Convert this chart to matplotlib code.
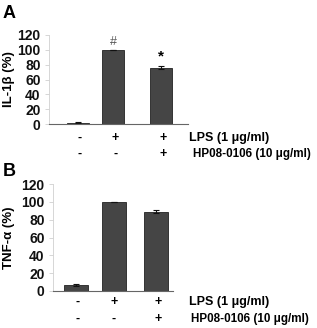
import matplotlib
matplotlib.use('Agg')
import matplotlib.pyplot as plt
import matplotlib.transforms as mtransforms

plt.rcParams['font.family'] = ['Liberation Sans', 'DejaVu Sans']
plt.rcParams['font.weight'] = 'bold'

# data
positions_A = [0, 1, 2.35]
il1b = [2, 100, 76]
il1b_err = [0.8, 0, 2]
marks_A = ['', '#', '*']

positions_B = [0, 1, 2.1]
tnfa = [7, 100, 89]
tnfa_err = [1, 0, 1.5]

lps = ['-', '+', '+']
hp = ['-', '-', '+']
yticks = [0, 20, 40, 60, 80, 100, 120]

W, H = 317, 328
fig = plt.figure(figsize=(W / 100, H / 100), dpi=100)

FS = 9


def make_axes(x0, x1, y0, y1):
    # pixel box -> figure fraction
    return fig.add_axes([x0 / W, 1 - y0 / H, (x1 - x0) / W, (y0 - y1) / H])


def panel(ax, pos, vals, errs, ylabel, xlim, sign_x, row_y, text_x, label_x):
    ax.bar(pos, vals, width=0.62, color='#454545', edgecolor='#222222', linewidth=0.6)
    ax.errorbar(pos, vals, yerr=errs, fmt='none', ecolor='#111111', elinewidth=0.8, capsize=2, capthick=0.8)
    ax.set_xlim(*xlim)
    ax.set_ylim(0, 120)
    ax.set_yticks(yticks)
    ax.set_xticks([])
    for s in ['top', 'right']:
        ax.spines[s].set_visible(False)
    ax.spines['left'].set_color('#d0d0d0')
    ax.spines['left'].set_linewidth(0.6)
    ax.spines['bottom'].set_color('#666666')
    ax.spines['bottom'].set_linewidth(0.8)
    ax.tick_params(axis='y', colors='#d0d0d0', length=3, width=0.6, pad=3,
                   labelcolor='#111111', labelsize=10)
    for lab in ax.get_yticklabels():
        lab.set_fontweight('bold')
    ax.set_ylabel(ylabel, fontsize=9.5, fontweight='bold')
    ax.yaxis.label.set_verticalalignment('center')
    bbox = ax.get_position()
    ax.yaxis.set_label_coords((label_x / W - bbox.x0) / bbox.width, 0.5)

    trans = mtransforms.blended_transform_factory(ax.transData, fig.transFigure)
    for x, a, b in zip(sign_x, lps, hp):
        ax.text(x, 1 - row_y[0] / H, a, transform=trans, ha='center', va='center',
                fontsize=FS, fontweight='bold')
        ax.text(x, 1 - row_y[1] / H, b, transform=trans, ha='center', va='center',
                fontsize=FS, fontweight='bold')
    fig.text(text_x[0] / W, 1 - row_y[0] / H, 'LPS (1 \u03bcg/ml)', ha='left', va='center',
             fontsize=FS, fontweight='bold')
    fig.text(text_x[1] / W, 1 - row_y[1] / H, 'HP08-0106 (10 \u03bcg/ml)', ha='left', va='center',
             fontsize=8.4, fontweight='bold')


# panel A
axA = make_axes(49, 188, 124, 35)
panel(axA, positions_A, il1b, il1b_err, 'IL-1\u03b2 (%)', (-0.81, 3.1),
      [0.05, 1.05, 2.4], (138, 154), (189, 193), 9)
for x, v, e, m in zip(positions_A, il1b, il1b_err, marks_A):
    if m == '#':
        axA.text(x, v + e + 3, m, ha='center', va='bottom', fontsize=9,
                 fontweight='normal', color='#555555')
    elif m:
        axA.text(x, v + e + 3, m, ha='center', va='bottom', fontsize=11, fontweight='bold')

# panel B
axB = make_axes(53, 173, 291, 184)
panel(axB, positions_B, tnfa, tnfa_err, 'TNF-\u03b1 (%)', (-0.6, 2.55),
      [0.05, 1.0, 2.15], (302, 319), (189, 191), 9)

fig.text(3 / W, 1 - 13 / H, 'A', fontsize=13, fontweight='bold', va='center', ha='left')
fig.text(3 / W, 1 - 172 / H, 'B', fontsize=13, fontweight='bold', va='center', ha='left')

fig.savefig('out.png', dpi=100)
